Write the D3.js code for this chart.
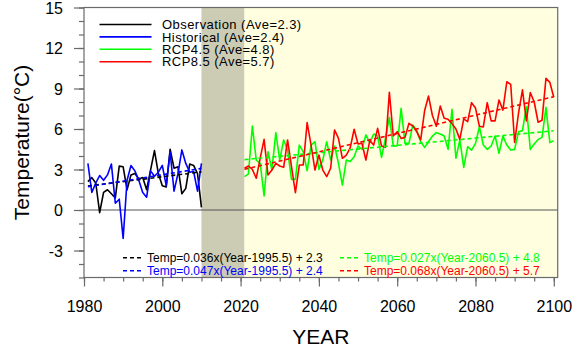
<!DOCTYPE html>
<html>
<head>
<meta charset="utf-8">
<script src="https://cdn.jsdelivr.net/npm/d3@7"></script>
<style>
  body { margin: 0; background: #fff; }
  svg { display: block; font-family: "Liberation Sans", Arial, Helvetica, sans-serif; }
</style>
</head>
<body>
<svg id="chart" width="586" height="348"></svg>
<script>
// Annual temperature anomalies (°C)
const pastYears = d3.range(1981, 2011);
const futureYears = d3.range(2021, 2101);

const observation = [2.1, 2.4, 2.0, -0.2, 1.3, 1.5, 1.2, 0.9, 3.25, 3.2,
  1.5, 2.6, 2.7, 2.3, 2.4, 1.5, 2.95, 4.4, 2.7, 1.8,
  1.7, 4.5, 3.1, 3.2, 1.2, 1.6, 3.4, 3.3, 2.7, 0.2];

const historical = [3.45, 1.3, 2.0, 2.55, 2.2, 2.6, 3.4, 0.5, 0.8, -2.1,
  2.2, 3.3, 2.9, 2.2, 1.3, 0.95, 2.9, 2.5, 2.8, 3.3,
  1.8, 4.3, 1.4, 2.7, 4.45, 3.45, 2.8, 2.85, 1.4, 3.46];

const rcp45 = [2.47, 2.67, 6.22, 3.7, 3.46, 1.04, 4.32, 2.96, 5.73, 3.7,
  5.19, 4.44, 2.27, 2.27, 4.81, 4.32, 2.91, 4.81, 5.06, 3.01,
  3.7, 5.06, 3.7, 4.74, 3.46, 1.85, 3.7, 3.6, 3.95, 4.74,
  4.49, 5.56, 4.99, 5.63, 5.48, 3.9, 5.31, 6.86, 4.74, 4.74,
  7.53, 4.94, 4.94, 6.3, 5.88, 5.06, 4.64, 5.06, 5.48, 5.73,
  5.63, 5.48, 4.49, 7.46, 3.83, 5.19, 3.16, 4.69, 4.44, 4.94,
  6.17, 4.81, 4.49, 4.74, 5.48, 4.2, 5.48, 4.81, 4.44, 4.49,
  5.8, 5.88, 7.65, 4.49, 4.89, 5.23, 5.38, 7.6, 4.99, 5.14];

const rcp85 = [3.09, 3.26, 3.01, 2.35, 3.83, 5.23, 2.59, 2.96, 3.46, 3.26,
  3.16, 5.19, 3.21, 1.28, 3.33, 3.33, 6.47, 4.81, 2.96, 4.07,
  2.96, 2.47, 3.09, 5.93, 5.31, 3.83, 4.07, 4.6, 5.98, 4.89,
  4.94, 3.7, 5.14, 4.81, 6.05, 4.74, 4.64, 8.72, 5.48, 5.8,
  5.3, 5.38, 6.42, 6.22, 5.8, 5.19, 7.35, 8.44, 7.0, 6.2,
  7.7, 6.79, 6.72, 6.4, 6.0, 5.23, 6.75, 6.54, 7.95, 7.55,
  6.2, 6.15, 7.95, 6.6, 6.6, 8.15, 7.4, 9.5, 9.3, 5.0,
  7.2, 8.9, 6.6, 8.7, 8.0, 6.5, 6.65, 9.75, 9.45, 8.35];

// Linear trends: Temp = slope*(Year - center) + mean
const seriesNames = ["Observation", "Historical", "RCP4.5", "RCP8.5"];
const seriesColors = ["#000000", "#0000ff", "#00ff00", "#ff0000"];
const seriesMeans = [2.3, 2.4, 4.8, 5.7];
const trendSlopes = [0.036, 0.047, 0.027, 0.068];
const trendCenters = [1995.5, 1995.5, 2060.5, 2060.5];

const xMajorTicks = [1980, 2000, 2020, 2040, 2060, 2080, 2100];
const yMajorTicks = [-3, 0, 3, 6, 9, 12, 15];

const svg = d3.select("#chart");
const plotL = 84, plotR = 557.7, plotT = 7.5, plotB = 277.5;

const x = d3.scaleLinear().domain([1980, 2101]).range([plotL, plotR]);
const y = d3.scaleLinear().domain([-5, 15]).range([plotB, plotT]);

// shaded periods
svg.append("rect")
  .attr("x", x(2010)).attr("y", plotT)
  .attr("width", x(2021) - x(2010)).attr("height", plotB - plotT)
  .attr("fill", "#cccbb4");
svg.append("rect")
  .attr("x", x(2021)).attr("y", plotT)
  .attr("width", x(2101) - x(2021)).attr("height", plotB - plotT)
  .attr("fill", "#ffffe0");

// zero reference line
svg.append("line")
  .attr("x1", plotL).attr("x2", plotR)
  .attr("y1", y(0)).attr("y2", y(0))
  .attr("stroke", "#555").attr("stroke-width", 1);

const line = d3.line().x(d => x(d[0])).y(d => y(d[1]));

const series = [
  { years: pastYears, values: observation },
  { years: pastYears, values: historical },
  { years: futureYears, values: rcp45 },
  { years: futureYears, values: rcp85 }
];

series.forEach((s, i) => {
  svg.append("path")
    .datum(s.years.map((yr, k) => [yr, s.values[k]]))
    .attr("d", line)
    .attr("fill", "none")
    .attr("stroke", seriesColors[i])
    .attr("stroke-width", 1.6)
    .attr("stroke-linejoin", "round");
});

// dashed trend lines
series.forEach((s, i) => {
  const y0 = s.years[0], y1 = s.years[s.years.length - 1];
  const f = yr => trendSlopes[i] * (yr - trendCenters[i]) + seriesMeans[i];
  svg.append("path")
    .datum([[y0, f(y0)], [y1, f(y1)]])
    .attr("d", line)
    .attr("fill", "none")
    .attr("stroke", seriesColors[i])
    .attr("stroke-width", 1.6)
    .attr("stroke-dasharray", "4,3");
});

// frame
svg.append("rect")
  .attr("x", plotL).attr("y", plotT)
  .attr("width", plotR - plotL).attr("height", plotB - plotT)
  .attr("fill", "none").attr("stroke", "#6a6a6a").attr("stroke-width", 1.2);

// axes
const axisColor = "#6a6a6a";
const xMinor = svg.append("g").attr("transform", `translate(0,${plotB})`)
  .call(d3.axisBottom(x).tickValues(d3.range(1980, 2101, 5)).tickSize(4).tickFormat(""));
const xMajor = svg.append("g").attr("transform", `translate(0,${plotB})`)
  .call(d3.axisBottom(x).tickValues(xMajorTicks).tickSize(9).tickFormat(d => String(d)));
const yMinor = svg.append("g").attr("transform", `translate(${plotL},0)`)
  .call(d3.axisLeft(y).tickValues(d3.range(-5, 16, 1)).tickSize(5).tickFormat(""));
const yMajor = svg.append("g").attr("transform", `translate(${plotL},0)`)
  .call(d3.axisLeft(y).tickValues(yMajorTicks).tickSize(10).tickFormat(d => String(d)));

[xMinor, xMajor, yMinor, yMajor].forEach(g => {
  g.select(".domain").remove();
  g.selectAll("line").attr("stroke", axisColor).attr("stroke-width", 1.2);
});
xMajor.selectAll("text")
  .attr("y", 23).attr("dy", "0.71em")
  .attr("font-size", 16).attr("fill", "#000")
  .attr("font-family", "Liberation Sans, Arial, sans-serif");
yMajor.selectAll("text")
  .attr("x", -21).attr("dy", "0.36em")
  .attr("font-size", 16).attr("fill", "#000")
  .attr("font-family", "Liberation Sans, Arial, sans-serif");

// axis titles
svg.append("text")
  .attr("x", (plotL + plotR) / 2).attr("y", 343.5)
  .attr("text-anchor", "middle").attr("font-size", 21)
  .text("YEAR");
svg.append("text")
  .attr("transform", `translate(29,${(plotT + plotB) / 2}) rotate(-90)`)
  .attr("text-anchor", "middle").attr("font-size", 21)
  .text("Temperature(°C)");

// series legend
const legend = svg.append("g");
seriesNames.forEach((name, i) => {
  const ly = 24.5 + i * 12.4;
  legend.append("line")
    .attr("x1", 99.5).attr("x2", 151.5).attr("y1", ly).attr("y2", ly)
    .attr("stroke", seriesColors[i]).attr("stroke-width", 1.6);
  legend.append("text")
    .attr("x", 162).attr("y", ly).attr("dy", "0.36em")
    .attr("font-size", 13).attr("letter-spacing", 0.45).attr("fill", "#000")
    .text(`${name} (Ave=${seriesMeans[i]})`);
});

// trend equations
const eqPos = [[123, 257.7], [123, 270.7], [340, 257.7], [340, 270.7]];
series.forEach((s, i) => {
  const [ex, ey] = eqPos[i];
  svg.append("line")
    .attr("x1", ex).attr("x2", ex + 20).attr("y1", ey).attr("y2", ey)
    .attr("stroke", seriesColors[i]).attr("stroke-width", 1.6)
    .attr("stroke-dasharray", "4,3");
  svg.append("text")
    .attr("x", ex + 24).attr("y", ey).attr("dy", "0.36em")
    .attr("font-size", 12).attr("fill", seriesColors[i])
    .text(`Temp=${trendSlopes[i].toFixed(3)}x(Year-${trendCenters[i]}) + ${seriesMeans[i]}`);
});
</script>
</body>
</html>
